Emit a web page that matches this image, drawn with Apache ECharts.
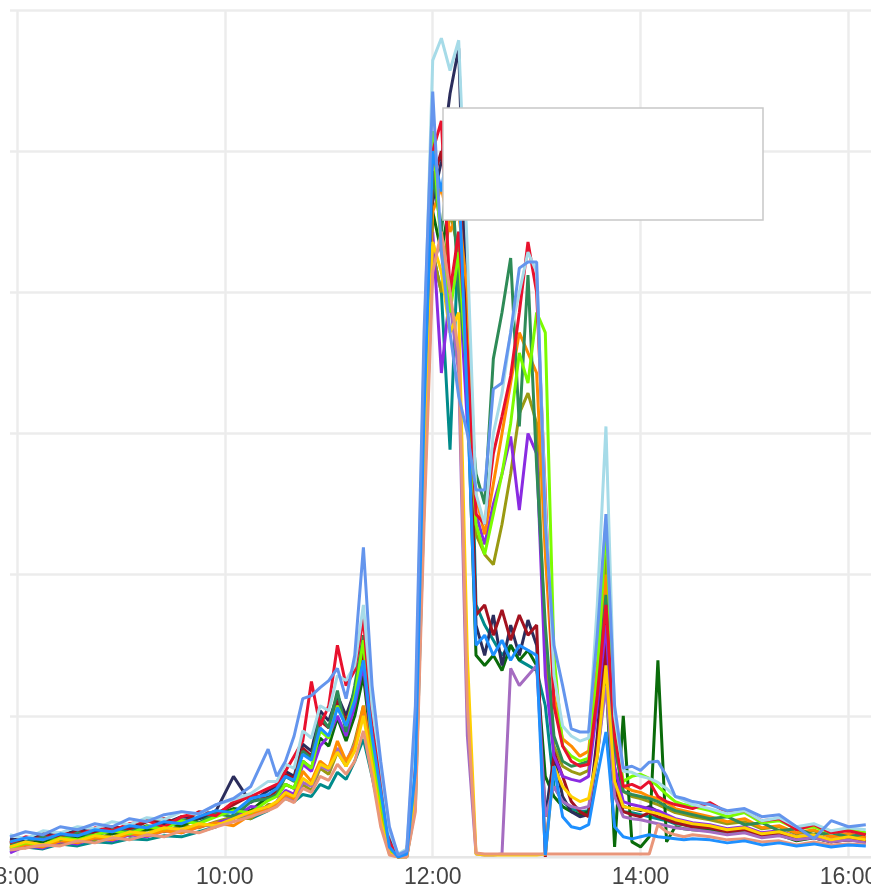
<!DOCTYPE html>
<html><head><meta charset="utf-8">
<script src="https://cdn.jsdelivr.net/npm/echarts@6/dist/echarts.min.js"></script>
<style>html,body{margin:0;padding:0;background:#fff;overflow:hidden}#c{width:871px;height:892px}</style>
</head><body><div id="c"></div>
<script>
// time stamps (HH:MM)
const times = [
 "7:56","8:05","8:15","8:25","8:35","8:45","8:55","9:05","9:15","9:25","9:35","9:45","9:55","10:05","10:15","10:25",
 "10:30","10:35","10:40","10:45","10:50","10:55","11:00","11:05","11:10","11:15","11:20","11:25","11:30",
 "11:35","11:40","11:45","11:50","11:55","12:00","12:05","12:10","12:15","12:20",
 "12:25","12:30","12:35","12:40","12:45","12:50","12:55","13:00","13:05","13:10",
 "13:15","13:20","13:25","13:30","13:35","13:40","13:45","13:50","13:55","14:00","14:05","14:10","14:15","14:20","14:25","14:30",
 "14:40","14:50","15:00","15:10","15:20","15:30","15:40","15:50","16:00","16:10"
];
const tickHours = [8, 10, 12, 14, 16];

const sCornflower = [20,25,22,30,27,33,30,38,35,42,45,43,52,58,70,107,
 80,95,120,157,160,168,175,187,157,200,307,170,95,
 30,2,6,150,520,759,600,520,457,420,
 364,364,464,470,520,584,590,590,330,210,
 170,127,124,124,220,340,150,88,90,86,94,95,80,60,58,55,
 52,46,48,40,42,30,18,36,30,32];
const sRed = [14,20,17,24,21,29,26,33,36,30,40,44,41,55,60,68,
 72,85,100,115,174,130,150,210,170,185,237,130,70,
 15,0,3,110,430,700,730,560,620,500,
 340,330,400,437,477,540,610,560,360,150,
 110,95,90,92,160,250,120,70,72,68,75,60,55,52,50,48,
 54,44,46,36,38,27,32,24,26,22];
const sSeaGreen = [12,15,20,17,24,21,27,25,31,29,37,34,43,40,55,58,
 62,80,75,105,98,140,128,165,124,170,220,120,60,
 10,0,4,90,400,680,620,700,560,480,
 380,350,494,540,594,427,577,387,230,120,
 95,90,92,95,170,260,110,65,62,60,58,55,50,46,44,42,
 38,40,32,34,26,28,22,24,20,23];
const sLime = [9,14,12,19,17,22,26,23,30,28,36,33,40,46,44,56,
 60,72,68,95,88,125,118,150,130,160,215,110,55,
 8,0,2,80,450,720,600,540,600,470,
 330,300,340,380,430,500,470,540,520,200,
 110,100,95,98,180,330,130,75,80,82,78,70,62,55,52,50,
 46,40,44,34,36,28,30,24,27,24];
const sOrange = [8,12,10,16,14,19,17,23,21,26,24,30,34,31,42,47,
 52,62,58,85,75,95,88,115,95,110,150,100,40,
 5,0,0,60,380,640,664,620,640,560,
 357,320,370,420,470,520,500,480,300,160,
 117,110,100,105,190,280,115,70,66,64,60,58,54,48,46,44,
 40,35,38,29,31,24,27,20,23,19];
const sNavy = [18,16,23,21,27,25,30,28,36,33,40,38,46,80,54,66,
 70,85,80,112,105,145,135,160,140,165,200,130,80,
 20,0,3,100,420,650,690,757,802,520,
 230,200,240,190,230,200,235,210,40,100,
 60,45,40,42,120,234,80,50,48,46,50,45,40,36,34,32,
 30,26,28,22,24,18,21,16,19,15];
const sTeal = [6,10,8,13,11,15,14,18,17,21,20,25,30,42,38,46,
 52,58,55,62,60,72,68,84,77,95,117,80,40,
 5,0,0,50,350,600,560,404,620,580,
 250,230,215,200,210,195,190,185,150,70,
 55,48,45,46,110,200,70,45,44,42,40,38,36,33,32,30,
 28,24,26,20,22,17,19,15,17,16];
const sViolet = [4,11,9,15,13,19,16,22,20,26,24,30,34,38,50,48,
 55,66,62,92,85,110,120,140,120,150,190,110,50,
 8,0,2,70,360,620,480,560,580,430,
 340,310,350,380,417,344,420,400,180,100,
 80,77,75,80,150,230,90,55,52,50,48,46,42,38,36,34,
 32,28,30,24,26,20,22,17,20,18];
const sLightBlue = [22,18,26,24,30,28,35,32,39,37,45,42,52,57,63,75,
 75,92,88,125,118,150,145,180,175,190,250,150,90,
 25,3,8,130,500,790,812,780,810,600,
 360,330,420,460,520,560,600,580,350,180,
 130,120,115,118,250,427,140,85,84,80,78,74,68,60,56,52,
 48,43,46,36,39,30,33,26,29,27];
const sDarkRed = [16,13,22,19,26,23,30,27,35,38,33,45,43,52,61,58,
 66,82,78,108,100,135,128,155,135,158,205,125,70,
 12,0,4,95,410,670,700,640,700,480,
 240,250,220,245,215,240,220,230,0,104,
 80,55,45,40,110,210,70,45,42,40,44,40,37,34,32,30,
 29,25,27,20,23,17,20,15,17,15];
const sGold = [10,15,12,18,16,21,19,25,23,29,27,33,31,38,45,50,
 55,64,60,78,72,92,88,104,90,105,140,90,35,
 3,0,0,55,380,610,580,520,540,200,
 3,2,2,2,2,2,2,2,3,90,
 70,60,55,58,100,190,75,50,48,47,45,43,40,37,35,33,
 31,27,29,23,25,20,22,17,20,17];
const sOlive = [11,9,15,13,19,17,23,21,27,25,31,29,35,40,38,52,
 52,60,56,72,66,88,82,104,90,115,150,95,50,
 6,0,1,65,370,600,560,640,600,500,
 320,300,290,330,380,440,460,430,200,110,
 90,85,82,86,160,300,110,65,60,58,55,52,48,44,42,40,
 37,33,35,28,30,23,26,20,23,19];
const sDarkGreen = [13,17,15,21,19,25,23,29,27,33,31,38,42,48,46,60,
 60,72,68,95,88,118,110,138,115,140,180,105,55,
 7,0,2,75,390,640,600,650,700,460,
 200,190,200,185,210,195,205,190,80,60,
 50,45,42,45,100,180,10,140,15,10,20,195,15,30,28,27,
 26,23,25,20,22,16,19,15,18,16];
const sDodger = [15,19,17,23,21,27,25,31,29,35,33,40,46,44,58,62,
 68,80,76,102,96,128,120,148,130,155,195,120,65,
 10,0,3,85,440,700,660,720,680,450,
 210,220,200,215,195,210,205,200,2,90,
 40,30,28,32,80,124,30,20,18,20,22,20,19,18,17,18,
 17,14,16,12,14,11,13,10,12,11];
const sOrchid = [8,12,10,17,15,20,18,24,22,28,26,32,30,39,43,50,
 51,60,56,74,70,90,86,108,95,112,145,92,45,
 4,0,0,60,360,590,610,550,480,120,
 3,2,2,3,187,170,180,190,40,70,
 55,50,48,50,100,170,60,40,38,37,35,33,31,29,28,27,
 25,22,24,19,21,17,19,15,17,14];
const sSalmon = [7,9,12,11,16,14,19,17,22,20,26,24,30,35,40,46,
 50,58,54,68,64,80,76,92,82,95,125,80,30,
 2,0,0,45,330,580,620,560,500,150,
 4,3,3,3,3,3,3,3,3,3,
 3,3,3,3,3,3,3,3,3,3,3,32,25,22,20,22,
 20,17,18,15,16,12,15,12,13,12];

function toH(t){ const p = t.split(':').map(Number); return p[0] + p[1]/60; }

const defs = [
 ['teal', '#008b8b', sTeal],
 ['olive', '#9a9a12', sOlive],
 ['darkgreen', '#0a6b0a', sDarkGreen],
 ['navy', '#2b2d5c', sNavy],
 ['darkred', '#a3121f', sDarkRed],
 ['orchid', '#a56cc1', sOrchid],
 ['violet', '#8a2be2', sViolet],
 ['orange', '#ff8c00', sOrange],
 ['seagreen', '#2e8b57', sSeaGreen],
 ['lime', '#7cfc00', sLime],
 ['red', '#e8112d', sRed],
 ['lightblue', '#a6dbe8', sLightBlue],
 ['gold', '#ffd000', sGold],
 ['salmon', '#e9967a', sSalmon],
 ['dodger', '#1e90ff', sDodger],
 ['cornflower', '#6495ed', sCornflower]
];

const chart = echarts.init(document.getElementById('c'), null, {renderer: 'canvas'});
chart.setOption({
  animation: false,
  backgroundColor: '#fff',
  grid: {left: 10, right: 0, top: 10, bottom: 35, outerBoundsMode: 'none', containLabel: false},
  xAxis: {
    type: 'value', min: toH('7:56'), max: toH('16:13'),
    axisLine: {show: true, lineStyle: {color: '#e6e6e6', width: 2}},
    axisTick: {show: false, customValues: tickHours},
    axisLabel: {customValues: tickHours, formatter: v => Math.round(v) + ':00',
      fontSize: 23, color: '#444', fontFamily: 'Liberation Sans', margin: 9,
      hideOverlap: false},
    splitLine: {show: true, lineStyle: {color: '#ececec', width: 2.5}}
  },
  yAxis: {
    type: 'value', min: 0, max: 840, interval: 140,
    axisLabel: {show: false}, axisLine: {show: false}, axisTick: {show: false},
    splitLine: {lineStyle: {color: '#ececec', width: 2.5}}
  },
  series: defs.map(d => ({
    name: d[0], type: 'line', showSymbol: false, symbol: 'none',
    lineStyle: {color: d[1], width: 3}, itemStyle: {color: d[1]},
    data: times.map((t, i) => [toH(t), d[2][i]])
  })),
  graphic: [{
    type: 'rect', z: 100,
    shape: {x: 443, y: 108, width: 320, height: 112},
    style: {fill: '#ffffff', stroke: '#c8c8c8', lineWidth: 1.5}
  }]
});
</script>
</body></html>
